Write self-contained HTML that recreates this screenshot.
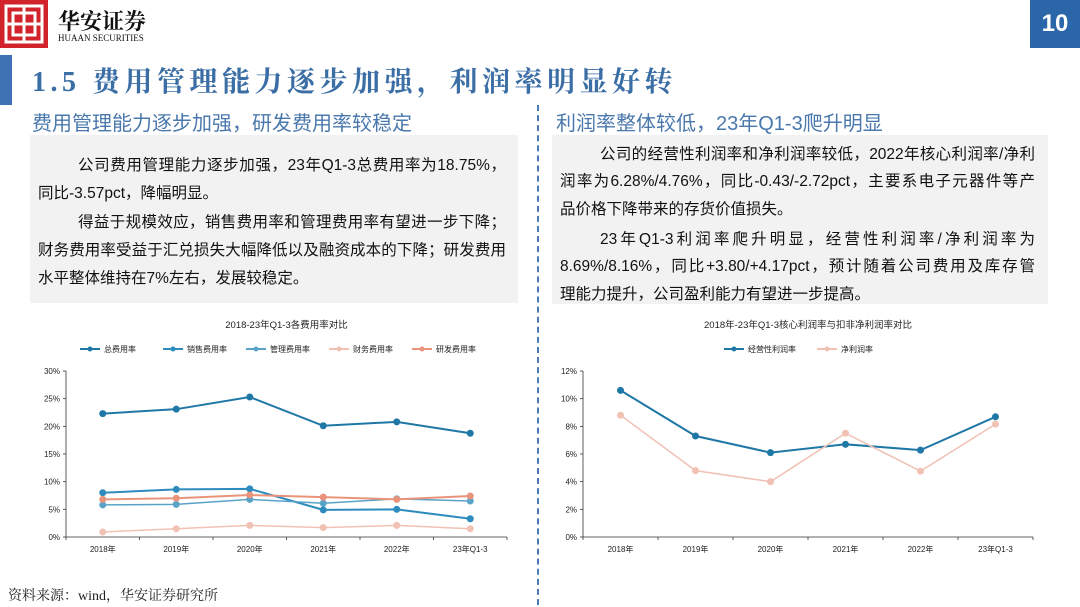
<!DOCTYPE html>
<html><head><meta charset="utf-8">
<style>
body{margin:0;width:1080px;height:607px;background:#fff;position:relative;overflow:hidden;font-family:"Liberation Sans","Noto Sans CJK SC",sans-serif;}
.abs{position:absolute;}
.ln{position:absolute;font-size:15.5px;color:#111;white-space:nowrap;line-height:20px;}
.j{text-align:justify;text-align-last:justify;}
.sub{position:absolute;font-size:20px;color:#4a78ac;white-space:nowrap;}
svg text{font-family:"Liberation Sans","Noto Sans CJK SC",sans-serif;}
</style></head><body>
<div class="abs" style="left:0;top:0;width:48px;height:48px;background:#d2232a;">
<svg width="48" height="48"><rect x="6" y="6" width="36" height="36" fill="none" stroke="#fff" stroke-width="3"/><rect x="13" y="13" width="22" height="22" fill="none" stroke="#fff" stroke-width="3"/><line x1="24" y1="6" x2="24" y2="42" stroke="#fff" stroke-width="3"/><line x1="6" y1="24" x2="42" y2="24" stroke="#fff" stroke-width="3"/></svg></div>
<div class="abs" style="left:58px;top:5px;font-size:22px;font-family:'Noto Serif CJK SC',serif;font-weight:bold;color:#111;">华安证券</div>
<div class="abs" style="left:58px;top:33px;font-size:9px;font-family:'Liberation Serif',serif;color:#111;">HUAAN SECURITIES</div>
<div class="abs" style="left:1030px;top:0;width:50px;height:48px;background:#2b66a8;color:#fff;font-size:24px;font-weight:bold;text-align:center;line-height:48px;">10</div>
<div class="abs" style="left:0;top:55px;width:12px;height:50px;background:#3f72b4;"></div>
<div class="abs" style="left:32px;top:60px;font-size:28px;color:#3b6ea5;font-family:'Liberation Serif','Noto Serif CJK SC',serif;font-weight:bold;white-space:nowrap;letter-spacing:4.5px;">1.5 费用管理能力逐步加强，利润率明显好转</div>
<div class="abs" style="left:537px;top:105px;height:500px;border-left:2px dashed #4a7ab8;"></div>

<div class="sub" style="left:32px;top:107px;">费用管理能力逐步加强，研发费用率较稳定</div>
<div class="abs" style="left:30px;top:135px;width:488px;height:168px;background:#f2f2f2;"></div>
<div class="ln j" style="left:78px;top:156px;width:428px;">公司费用管理能力逐步加强，23年Q1-3总费用率为18.75%，</div>
<div class="ln" style="left:38px;top:184px;">同比-3.57pct，降幅明显。</div>
<div class="ln j" style="left:78px;top:213px;width:428px;">得益于规模效应，销售费用率和管理费用率有望进一步下降；</div>
<div class="ln j" style="left:38px;top:241px;width:468px;">财务费用率受益于汇兑损失大幅降低以及融资成本的下降；研发费用</div>
<div class="ln" style="left:38px;top:269px;">水平整体维持在7%左右，发展较稳定。</div>

<div class="sub" style="left:556px;top:107px;">利润率整体较低，23年Q1-3爬升明显</div>
<div class="abs" style="left:552px;top:135px;width:496px;height:169px;background:#f2f2f2;"></div>
<div class="ln j" style="left:600px;top:145px;width:435px;">公司的经营性利润率和净利润率较低，2022年核心利润率/净利</div>
<div class="ln j" style="left:560px;top:172px;width:475px;">润率为6.28%/4.76%，同比-0.43/-2.72pct，主要系电子元器件等产</div>
<div class="ln" style="left:560px;top:200px;">品价格下降带来的存货价值损失。</div>
<div class="ln j" style="left:600px;top:230px;width:435px;">23年Q1-3利润率爬升明显，经营性利润率/净利润率为</div>
<div class="ln j" style="left:560px;top:257px;width:475px;">8.69%/8.16%，同比+3.80/+4.17pct，预计随着公司费用及库存管</div>
<div class="ln" style="left:560px;top:285px;">理能力提升，公司盈利能力有望进一步提高。</div>

<div class="abs" style="left:8px;top:585px;font-size:14px;color:#222;font-family:'Liberation Serif','Noto Serif CJK SC',serif;">资料来源：wind，华安证券研究所</div>

<svg id="c1" class="abs" style="left:0;top:0" width="1080" height="607"></svg>

<script>
const cats=["2018年","2019年","2020年","2021年","2022年","23年Q1-3"];
const totalRate=[22.3,23.1,25.3,20.1,20.8,18.75];
const salesRate=[8.0,8.6,8.7,4.9,5.0,3.3];
const mgmtRate=[5.8,5.9,6.8,6.1,6.9,6.5];
const finRate=[0.9,1.5,2.1,1.7,2.1,1.5];
const rdRate=[6.8,7.0,7.6,7.2,6.8,7.4];
const leftTicks=[0,5,10,15,20,25,30];
const opMargin=[10.6,7.3,6.1,6.7,6.28,8.69];
const netMargin=[8.8,4.8,4.0,7.5,4.76,8.16];
const rightTicks=[0,2,4,6,8,10,12];

const NS="http://www.w3.org/2000/svg";
const svg=document.getElementById('c1');
function mk(tag,attrs,parent){const e=document.createElementNS(NS,tag);for(const k in attrs)e.setAttribute(k,attrs[k]);(parent||svg).appendChild(e);return e;}

function chart(o){
  const g=mk('g',{});
  
  
  const y=v=>o.y0-(v-o.min)/(o.max-o.min)*(o.y0-o.y1);
  const step=(o.xr-o.xl)/cats.length;
  const x=i=>o.xl+step*(i+0.5);
  const t=mk('text',{x:(o.xl+o.xr)/2,y:o.titleY,'text-anchor':'middle','font-size':9.5,fill:'#222'},g);t.textContent=o.title;
  
  
  mk('line',{x1:o.xl,y1:o.y1,x2:o.xl,y2:o.y0,stroke:'#333','stroke-width':0.8},g);
  mk('line',{x1:o.xl,y1:o.y0,x2:o.xr,y2:o.y0,stroke:'#333','stroke-width':0.8},g);
  o.ticks.forEach(v=>{
    mk('line',{x1:o.xl-3,y1:y(v),x2:o.xl,y2:y(v),stroke:'#333','stroke-width':0.8},g);
    const tt=mk('text',{x:o.xl-6,y:y(v)+3,'text-anchor':'end','font-size':8,fill:'#222'},g);tt.textContent=v+'%';
    
    
  });
  for(let i=0;i<=cats.length;i++) mk('line',{x1:o.xl+step*i,y1:o.y0,x2:o.xl+step*i,y2:o.y0+3,stroke:'#333','stroke-width':0.8},g);
  cats.forEach((c,i)=>{const tt=mk('text',{x:x(i),y:o.y0+15,'text-anchor':'middle','font-size':8,fill:'#222'},g);tt.textContent=c;
    
    });
  let lx=o.legX;
  o.series.forEach(s=>{
    const le=mk('g',{},g);
    
    
    mk('line',{x1:lx,y1:o.legY,x2:lx+20,y2:o.legY,stroke:s.c,'stroke-width':2},le);
    mk('circle',{cx:lx+10,cy:o.legY,r:2.5,fill:s.c},le);
    const tt=mk('text',{x:lx+24,y:o.legY+3,'font-size':8,fill:'#222'},le);tt.textContent=s.n;
    lx+=o.legStep;
  });
  o.series.forEach(s=>{
    const sg=mk('g',{},g);
    
    
    mk('polyline',{points:s.d.map((v,i)=>x(i)+','+y(v)).join(' '),fill:'none',stroke:s.c,'stroke-width':s.w},sg);
    s.d.forEach((v,i)=>{const p=mk('circle',{cx:x(i),cy:y(v),r:s.r,fill:s.c},sg);
      
      });
  });
}
chart({name:'expense-chart',title:'2018-23年Q1-3各费用率对比',titleY:328,xl:66,xr:507,y0:537,y1:371,min:0,max:30,ticks:leftTicks,legX:80,legY:349,legStep:83,
  series:[{k:'total',n:'总费用率',d:totalRate,c:'#1f77a6',w:2,r:3.5},{k:'sales',n:'销售费用率',d:salesRate,c:'#2e8bbd',w:2,r:3.5},{k:'mgmt',n:'管理费用率',d:mgmtRate,c:'#5aa3c8',w:1.5,r:3.5},{k:'fin',n:'财务费用率',d:finRate,c:'#f1c1b4',w:1.5,r:3.5},{k:'rd',n:'研发费用率',d:rdRate,c:'#e9947a',w:2,r:3.5}]});
chart({name:'profit-chart',title:'2018年-23年Q1-3核心利润率与扣非净利润率对比',titleY:328,xl:583,xr:1033,y0:537,y1:371,min:0,max:12,ticks:rightTicks,legX:724,legY:349,legStep:93,
  series:[{k:'op',n:'经营性利润率',d:opMargin,c:'#1f77a6',w:2,r:3.5},{k:'net',n:'净利润率',d:netMargin,c:'#f1c1b4',w:1.5,r:3.5}]});
</script>
</body></html>
